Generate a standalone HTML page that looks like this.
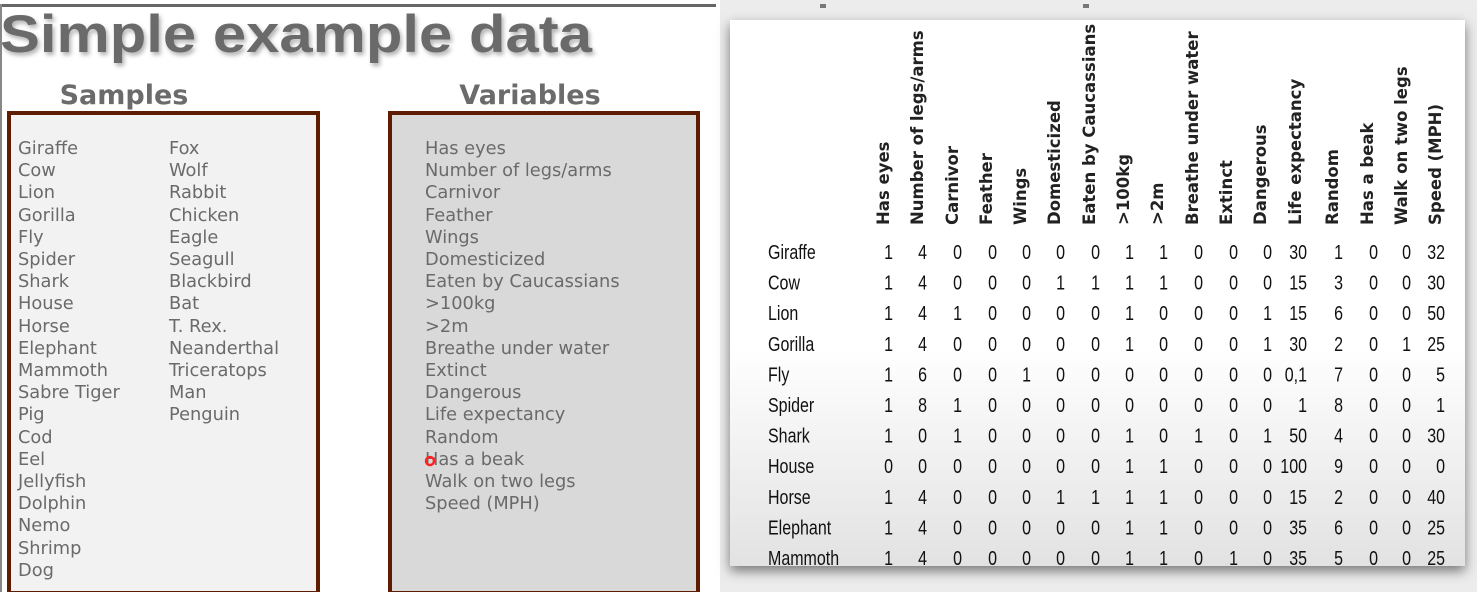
<!DOCTYPE html>
<html><head><meta charset="utf-8"><style>
html,body{margin:0;padding:0;background:#fff;}
svg{display:block;}
.t{font-family:"DejaVu Sans",sans-serif;fill:#6a6a6a;font-size:17.8px;}
.h{font-family:"DejaVu Sans",sans-serif;font-weight:bold;fill:#222;font-size:16.5px;}
.v{font-family:"Liberation Sans",sans-serif;fill:#111;font-size:20px;}
</style></head><body>
<svg width="1477" height="592" viewBox="0 0 1477 592" xmlns="http://www.w3.org/2000/svg">
<defs>
<filter id="sh" x="-5%" y="-5%" width="110%" height="115%"><feDropShadow dx="0" dy="5" stdDeviation="6" flood-color="#000" flood-opacity="0.5"/></filter>
<filter id="ts"><feDropShadow dx="2" dy="3" stdDeviation="2" flood-color="#000" flood-opacity="0.3"/></filter>
<linearGradient id="cg" x1="0" y1="0" x2="0" y2="1"><stop offset="0" stop-color="#fff"/><stop offset="0.6" stop-color="#fff"/><stop offset="1" stop-color="#e2e2e2"/></linearGradient>
<clipPath id="cc"><rect x="730" y="20" width="735" height="546"/></clipPath>
</defs>
<rect x="0" y="0" width="716" height="592" fill="#fff"/>
<rect x="0" y="4" width="716" height="3" fill="#666"/>
<rect x="0" y="4" width="2" height="588" fill="#888"/>
<text x="0" y="52" font-family="Liberation Sans,sans-serif" font-weight="bold" font-size="53" fill="#6b6b6b" filter="url(#ts)" textLength="592" lengthAdjust="spacingAndGlyphs">Simple example data</text>
<text x="124" y="104" text-anchor="middle" font-family="DejaVu Sans,sans-serif" font-weight="bold" font-size="27" fill="#6b6b6b">Samples</text>
<text x="530" y="104" text-anchor="middle" font-family="DejaVu Sans,sans-serif" font-weight="bold" font-size="27" fill="#6b6b6b">Variables</text>
<rect x="9" y="113" width="309" height="480" fill="#f2f2f2" stroke="#5e1c00" stroke-width="4"/>
<rect x="390" y="113" width="308" height="480" fill="#d9d9da" stroke="#5e1c00" stroke-width="4"/>
<g class="t">
<text x="18" y="154">Giraffe</text><text x="18" y="176">Cow</text><text x="18" y="198">Lion</text><text x="18" y="221">Gorilla</text><text x="18" y="243">Fly</text><text x="18" y="265">Spider</text><text x="18" y="287">Shark</text><text x="18" y="309">House</text><text x="18" y="332">Horse</text><text x="18" y="354">Elephant</text><text x="18" y="376">Mammoth</text><text x="18" y="398">Sabre Tiger</text><text x="18" y="420">Pig</text><text x="18" y="443">Cod</text><text x="18" y="465">Eel</text><text x="18" y="487">Jellyfish</text><text x="18" y="509">Dolphin</text><text x="18" y="531">Nemo</text><text x="18" y="554">Shrimp</text><text x="18" y="576">Dog</text>
<text x="169" y="154">Fox</text><text x="169" y="176">Wolf</text><text x="169" y="198">Rabbit</text><text x="169" y="221">Chicken</text><text x="169" y="243">Eagle</text><text x="169" y="265">Seagull</text><text x="169" y="287">Blackbird</text><text x="169" y="309">Bat</text><text x="169" y="332">T. Rex.</text><text x="169" y="354">Neanderthal</text><text x="169" y="376">Triceratops</text><text x="169" y="398">Man</text><text x="169" y="420">Penguin</text>
<text x="425" y="154">Has eyes</text><text x="425" y="176">Number of legs/arms</text><text x="425" y="198">Carnivor</text><text x="425" y="221">Feather</text><text x="425" y="243">Wings</text><text x="425" y="265">Domesticized</text><text x="425" y="287">Eaten by Caucassians</text><text x="425" y="309">&gt;100kg</text><text x="425" y="332">&gt;2m</text><text x="425" y="354">Breathe under water</text><text x="425" y="376">Extinct</text><text x="425" y="398">Dangerous</text><text x="425" y="420">Life expectancy</text><text x="425" y="443">Random</text><text x="425" y="465">Has a beak</text><text x="425" y="487">Walk on two legs</text><text x="425" y="509">Speed (MPH)</text>
</g>
<circle cx="430" cy="461" r="4" fill="none" stroke="#f22" stroke-width="2.5"/>
<rect x="716" y="0" width="761" height="592" fill="#ececec"/>
<rect x="716" y="0" width="4" height="592" fill="#fff"/>
<rect x="820" y="4" width="6" height="4" fill="#777"/><rect x="1083" y="4" width="6" height="4" fill="#777"/>
<rect x="730" y="20" width="735" height="546" fill="url(#cg)" filter="url(#sh)"/>
<g clip-path="url(#cc)">
<g class="h">
<text transform="translate(889,225) rotate(-90)">Has eyes</text>
<text transform="translate(923,225) rotate(-90)">Number of legs/arms</text>
<text transform="translate(958,225) rotate(-90)">Carnivor</text>
<text transform="translate(992,225) rotate(-90)">Feather</text>
<text transform="translate(1026,225) rotate(-90)">Wings</text>
<text transform="translate(1060,225) rotate(-90)">Domesticized</text>
<text transform="translate(1095,225) rotate(-90)">Eaten by Caucassians</text>
<text transform="translate(1129,225) rotate(-90)">&gt;100kg</text>
<text transform="translate(1163,225) rotate(-90)">&gt;2m</text>
<text transform="translate(1198,225) rotate(-90)">Breathe under water</text>
<text transform="translate(1232,225) rotate(-90)">Extinct</text>
<text transform="translate(1266,225) rotate(-90)">Dangerous</text>
<text transform="translate(1301,225) rotate(-90)">Life expectancy</text>
<text transform="translate(1338,225) rotate(-90)">Random</text>
<text transform="translate(1373,225) rotate(-90)">Has a beak</text>
<text transform="translate(1407,225) rotate(-90)">Walk on two legs</text>
<text transform="translate(1441,225) rotate(-90)">Speed (MPH)</text>
</g>
<g class="v" id="tbl"></g>
</g>
</svg>
<script>
var rows=[["Giraffe","1 4 0 0 0 0 0 1 1 0 0 0 30 1 0 0 32"],["Cow","1 4 0 0 0 1 1 1 1 0 0 0 15 3 0 0 30"],["Lion","1 4 1 0 0 0 0 1 0 0 0 1 15 6 0 0 50"],["Gorilla","1 4 0 0 0 0 0 1 0 0 0 1 30 2 0 1 25"],["Fly","1 6 0 0 1 0 0 0 0 0 0 0 0,1 7 0 0 5"],["Spider","1 8 1 0 0 0 0 0 0 0 0 0 1 8 0 0 1"],["Shark","1 0 1 0 0 0 0 1 0 1 0 1 50 4 0 0 30"],["House","0 0 0 0 0 0 0 1 1 0 0 0 100 9 0 0 0"],["Horse","1 4 0 0 0 1 1 1 1 0 0 0 15 2 0 0 40"],["Elephant","1 4 0 0 0 0 0 1 1 0 0 0 35 6 0 0 25"],["Mammoth","1 4 0 0 0 0 0 1 1 0 1 0 35 5 0 0 25"]];
var cx=[888,922,957,992,1026,1060,1095,1129,1163,1198,1233,1267,1302,1338,1373,1406,1440];
var g=document.getElementById("tbl"),h="";
rows.forEach(function(r,i){var y=259+i*30.6;
h+='<text transform="translate(768,'+y+') scale(0.8,1)" x="0" y="0">'+r[0]+'</text>';
r[1].split(" ").forEach(function(v,j){h+='<text transform="translate('+(cx[j]+5)+','+y+') scale(0.8,1)" x="0" y="0" text-anchor="end">'+v+'</text>';});});
g.innerHTML=h;
</script>
</body></html>
